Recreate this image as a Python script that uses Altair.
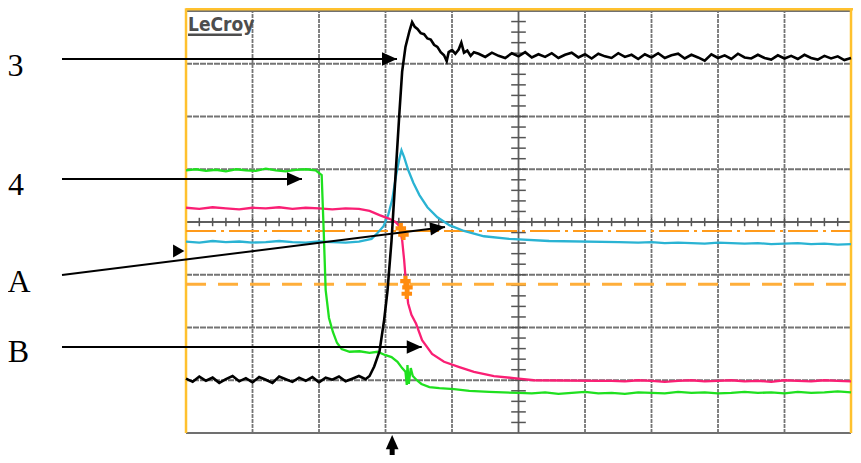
import altair as alt
import pandas as pd

# ---------------- data (screen divisions: t = horizontal div, v = vertical div) ----------------
# Channel 3 (black)
BLACK_BASE_V = [-2.97, -3.03, -2.93, -3.01, -2.95, -3.05, -2.98, -2.92, -3.02, -2.96,
                -3.04, -2.94, -2.99, -3.05, -2.93, -2.98, -3.03, -2.95, -3.01, -2.94,
                -3.04, -2.95, -2.99, -2.93, -3.02, -2.97, -2.92, -2.98]
BLACK_EDGE_T = [-2.24, -2.17, -2.09, -2.02, -1.97, -1.91, -1.85, -1.79, -1.75, -1.70,
                -1.64, -1.60, -1.56, -1.52, -1.47, -1.42, -1.37, -1.32, -1.27, -1.22,
                -1.17, -1.12, -1.08, -1.05, -1.00, -0.95, -0.90, -0.86, -0.82, -0.77,
                -0.72, -0.67]
BLACK_EDGE_V = [-2.92, -2.74, -2.45, -1.85, -1.30, -0.36, 0.87, 2.09, 2.85, 3.32,
                3.62, 3.79, 3.70, 3.66, 3.58, 3.56, 3.48, 3.46, 3.36, 3.32,
                3.22, 3.16, 3.05, 3.22, 3.26, 3.19, 3.27, 3.40, 3.21, 3.25,
                3.15, 3.22]
BLACK_TOP_V = [3.19, 3.13, 3.21, 3.15, 3.11, 3.20, 3.14, 3.22, 3.12, 3.18,
               3.13, 3.20, 3.11, 3.17, 3.21, 3.12, 3.18, 3.10, 3.19, 3.14,
               3.11, 3.20, 3.13, 3.17, 3.09, 3.18, 3.12, 3.20, 3.11, 3.16,
               3.19, 3.10, 3.17, 3.12, 3.06, 3.18, 3.11, 3.16, 3.09, 3.19,
               3.12, 3.10, 3.17, 3.11, 3.08, 3.16, 3.10, 3.15, 3.09, 3.17,
               3.11, 3.08, 3.15, 3.10, 3.14, 3.07, 3.11]

# Channel 4 (green)
GREEN_HIGH_V = [0.98, 1.00, 0.97, 0.99, 0.96, 1.00, 0.98, 0.97, 1.01, 0.98, 0.96, 0.99, 1.00, 0.98]
GREEN_EDGE_T = [-2.96, -2.93, -2.90, -2.85, -2.79, -2.73, -2.66, -2.54, -2.39, -2.24,
                -2.12, -2.01, -1.91, -1.82, -1.75, -1.70, -1.68, -1.67, -1.65, -1.62,
                -1.59, -1.53, -1.46, -1.34, -1.19, -0.97, -0.74, -0.44, 0.0]
GREEN_EDGE_V = [0.89, -0.15, -1.29, -1.82, -2.09, -2.29, -2.41, -2.46, -2.45, -2.48,
                -2.46, -2.52, -2.56, -2.65, -2.77, -2.84, -3.09, -2.71, -3.07, -2.77,
                -2.92, -3.00, -3.07, -3.13, -3.15, -3.17, -3.20, -3.22, -3.24]
GREEN_LOW_V = [-3.25, -3.23, -3.26, -3.24, -3.22, -3.25, -3.24, -3.26, -3.23, -3.24,
               -3.25, -3.22, -3.24, -3.23, -3.25, -3.24, -3.22, -3.24, -3.23, -3.25,
               -3.22, -3.24, -3.23, -3.21, -3.23]

# Trace B (magenta)
MAG_HIGH_V = [0.27, 0.25, 0.28, 0.26, 0.24, 0.27, 0.26, 0.28, 0.25, 0.27, 0.26, 0.24, 0.26, 0.25]
MAG_EDGE_T = [-2.24, -2.09, -1.94, -1.85, -1.79, -1.75, -1.72, -1.69, -1.66, -1.61,
              -1.54, -1.45, -1.30, -1.12, -0.89, -0.67, -0.37, -0.07, 0.23, 1.2]
MAG_EDGE_V = [0.21, 0.13, 0.06, 0.00, -0.08, -0.34, -0.72, -1.19, -1.54, -1.76,
              -1.93, -2.24, -2.50, -2.65, -2.75, -2.84, -2.92, -2.96, -3.00, -3.01]
MAG_LOW_V = [-3.01, -3.02, -3.00, -3.01, -3.03, -3.01, -3.00, -3.02, -3.01, -3.00,
             -3.02, -3.01, -3.03, -3.00, -3.01, -3.02, -3.00, -3.01, -3.02]

# Trace A (cyan)
CYAN_LOW_V = [-0.37, -0.39, -0.36, -0.38, -0.37, -0.39, -0.38, -0.36, -0.38, -0.39, -0.37, -0.38, -0.39, -0.37]
CYAN_EDGE_T = [-2.21, -2.12, -2.03, -1.96, -1.90, -1.84, -1.79, -1.76, -1.72, -1.66,
               -1.58, -1.49, -1.37, -1.22, -1.04, -0.82, -0.52, -0.14, 0.46, 1.51]
CYAN_EDGE_V = [-0.32, -0.21, -0.08, 0.13, 0.42, 0.89, 1.21, 1.36, 1.23, 0.99,
               0.74, 0.51, 0.28, 0.09, -0.06, -0.17, -0.27, -0.32, -0.36, -0.38]
CYAN_TAIL_V = [-0.39, -0.38, -0.40, -0.39, -0.40, -0.41, -0.39, -0.40, -0.41, -0.40,
               -0.42, -0.41, -0.40, -0.42, -0.41, -0.43, -0.42]

# cursors and markers
CURSOR_DASHDOT_V = -0.17
CURSOR_DASHED_V = -1.18
MARK_T = [-1.77, -1.73, -1.70, -1.67, -1.68]
MARK_V = [-0.12, -0.24, -1.12, -1.24, -1.36]

# annotations
LABELS = ["3", "4", "A", "B"]
LABEL_T = [-7.564, -7.556, -7.511, -7.519]
LABEL_V = [2.77, 0.51, -1.33, -2.65]
ARROW_T1 = [-6.865, -6.865, -6.865, -6.865]
ARROW_V1 = [3.09, 0.815, -1.005, -2.37]
ARROW_T2 = [-1.827, -3.256, -1.105, -1.455]
ARROW_V2 = [3.09, 0.815, -0.095, -2.37]
ARROW_ANGLE = [0, 0, 353, 0]

# ---------------- scales ----------------
XMIN, XMAX = -7.677, 5.03
YMIN, YMAX = -4.417, 4.057
xs = alt.Scale(domain=[XMIN, XMAX], nice=False, zero=False)
ys = alt.Scale(domain=[YMIN, YMAX], nice=False, zero=False)


def X(f):
    return alt.X(f, type="quantitative", scale=xs, axis=None)


def Y(f):
    return alt.Y(f, type="quantitative", scale=ys, axis=None)


def trace_df(parts):
    t, v = [], []
    for tt, vv in parts:
        t += list(tt)
        v += list(vv)
    return pd.DataFrame({"t": t, "v": v, "i": range(len(t))})


black = trace_df([
    ([-5.0 + 0.1 * k for k in range(len(BLACK_BASE_V))], BLACK_BASE_V),
    (BLACK_EDGE_T, BLACK_EDGE_V),
    ([-0.6 + 0.1 * k for k in range(len(BLACK_TOP_V))], BLACK_TOP_V),
])
green = trace_df([
    ([-5.0 + 0.15 * k for k in range(len(GREEN_HIGH_V))], GREEN_HIGH_V),
    (GREEN_EDGE_T, GREEN_EDGE_V),
    ([0.2 + 0.2 * k for k in range(len(GREEN_LOW_V))], GREEN_LOW_V),
])
magenta = trace_df([
    ([-5.0 + 0.2 * k for k in range(len(MAG_HIGH_V))], MAG_HIGH_V),
    (MAG_EDGE_T, MAG_EDGE_V),
    ([1.4 + 0.2 * k for k in range(len(MAG_LOW_V))], MAG_LOW_V),
])
cyan = trace_df([
    ([-5.0 + 0.2 * k for k in range(len(CYAN_LOW_V))], CYAN_LOW_V),
    (CYAN_EDGE_T, CYAN_EDGE_V),
    ([1.8 + 0.2 * k for k in range(len(CYAN_TAIL_V))], CYAN_TAIL_V),
])


def line(df, color, w=2.3):
    return alt.Chart(df).mark_line(color=color, strokeWidth=w, interpolate="linear").encode(
        x=X("t"), y=Y("v"), order="i:Q")


# ---------------- graticule ----------------
GRID = "#747474"
vgrid = pd.DataFrame({"t": [-4, -3, -2, -1, 1, 2, 3, 4], "a": -4, "b": 4})
hgrid = pd.DataFrame({"v": [-3, -2, -1, 1, 2, 3], "a": -5, "b": 5})
grid_v = alt.Chart(vgrid).mark_rule(color=GRID, strokeWidth=1.8, strokeDash=[4, 1]).encode(
    x=X("t"), y=Y("a"), y2="b")
grid_h = alt.Chart(hgrid).mark_rule(color=GRID, strokeWidth=1.8, strokeDash=[6, 1]).encode(
    y=Y("v"), x=X("a"), x2="b")

center = pd.DataFrame({"x1": [-5, 0], "x2": [5, 0], "y1": [0, -4], "y2": [0, 4]})
center_rules = alt.Chart(center).mark_rule(color="#5e5e5e", strokeWidth=1.8).encode(
    x=X("x1"), x2="x2", y=Y("y1"), y2="y2")

tt = [round(-5 + 0.2 * k, 2) for k in range(1, 50)]
tick_t = pd.DataFrame({"t": tt, "a": -0.08, "b": 0.08})
tick_x = alt.Chart(tick_t).mark_rule(color="#555555", strokeWidth=1.5).encode(
    x=X("t"), y=Y("a"), y2="b")
tv = [round(-4 + 0.2 * k, 2) for k in range(1, 40)]
tick_v = pd.DataFrame({"v": tv, "a": -0.11, "b": 0.11})
tick_y = alt.Chart(tick_v).mark_rule(color="#555555", strokeWidth=1.5).encode(
    y=Y("v"), x=X("a"), x2="b")

frame_gray = pd.DataFrame({"x1": [-5, -5], "x2": [5, 5], "y1": [4, -4], "y2": [4, -4]})
frame_g = alt.Chart(frame_gray).mark_rule(color="#707070", strokeWidth=1.8).encode(
    x=X("x1"), x2="x2", y=Y("y1"), y2="y2")
frame_orange = pd.DataFrame({"x1": [-5, 5, -5], "x2": [-5, 5, 5.03],
                             "y1": [-4, -4, 4.035], "y2": [4.05, 4.05, 4.035]})
frame_o = alt.Chart(frame_orange).mark_rule(color="#ffc12e", strokeWidth=2.5).encode(
    x=X("x1"), x2="x2", y=Y("y1"), y2="y2")

cur1 = alt.Chart(pd.DataFrame({"a": [-5], "b": [5], "v": [CURSOR_DASHDOT_V]})).mark_rule(
    color="#ff9a1a", strokeWidth=2, strokeDash=[30, 5, 3, 5]).encode(x=X("a"), x2="b", y=Y("v"))
cur2 = alt.Chart(pd.DataFrame({"a": [-5], "b": [5], "v": [CURSOR_DASHED_V]})).mark_rule(
    color="#ffae3a", strokeWidth=3, strokeDash=[20, 12]).encode(x=X("a"), x2="b", y=Y("v"))

markers = alt.Chart(pd.DataFrame({"t": MARK_T, "v": MARK_V})).mark_point(
    shape="cross", filled=True, size=110, color="#ff8c0f", opacity=1).encode(x=X("t"), y=Y("v"))

# ---------------- annotations ----------------
HEAD = "M 0 0 L -2 -0.9 L -2 0.9 Z"
arrows = pd.DataFrame({"x1": ARROW_T1, "y1": ARROW_V1, "x2": ARROW_T2, "y2": ARROW_V2,
                       "ang": ARROW_ANGLE})
arrow_lines = alt.Chart(arrows).mark_rule(color="black", strokeWidth=2).encode(
    x=X("x1"), y=Y("y1"), x2="x2", y2="y2")
arrow_heads = alt.Chart(arrows).mark_point(shape=HEAD, filled=True, size=225, color="black",
                                           opacity=1, strokeWidth=0).encode(
    x=X("x2"), y=Y("y2"), angle=alt.Angle("ang:Q", scale=None))

labels = alt.Chart(pd.DataFrame({"txt": LABELS, "t": LABEL_T, "v": LABEL_V})).mark_text(
    font="Liberation Serif", fontSize=32, align="center", baseline="alphabetic", color="black").encode(
    x=X("t"), y=Y("v"), text="txt:N")

trig = pd.DataFrame({"t": [-1.90], "v": [-4.04], "a": [-4.2], "b": [-4.417], "ang": [270]})
trig_shaft = alt.Chart(trig).mark_rule(color="black", strokeWidth=5).encode(
    x=X("t"), y=Y("a"), y2="b")
trig_head = alt.Chart(trig).mark_point(shape=HEAD, filled=True, size=200, color="black",
                                       opacity=1, strokeWidth=0).encode(
    x=X("t"), y=Y("v"), angle=alt.Angle("ang:Q", scale=None))

level = alt.Chart(pd.DataFrame({"t": [-5.11], "v": [-0.55]})).mark_point(
    shape="triangle-right", filled=True, size=170, color="black", opacity=1).encode(
    x=X("t"), y=Y("v"))

logo = alt.Chart(pd.DataFrame({"t": [-4.97], "v": [3.62], "txt": ["LeCroy"]})).mark_text(
    font="DejaVu Sans Condensed", fontWeight="bold", fontSize=19, align="left",
    baseline="alphabetic", color="#4d4d4d").encode(x=X("t"), y=Y("v"), text="txt:N")
logo_ul = alt.Chart(pd.DataFrame({"a": [-4.97], "b": [-4.16], "v": [3.55]})).mark_rule(
    color="#4d4d4d", strokeWidth=2.5).encode(x=X("a"), x2="b", y=Y("v"))

chart = alt.layer(
    grid_v, grid_h, frame_g, center_rules, tick_x, tick_y, frame_o,
    cur1, cur2,
    line(cyan, "#2ab3d3"), line(magenta, "#fa1f74"), line(green, "#1fe01f"),
    line(black, "#000000", 2.6),
    markers,
    arrow_lines, arrow_heads, labels, trig_shaft, trig_head, level, logo, logo_ul,
).properties(
    width=845, height=447, padding=0, autosize=alt.AutoSizeParams(type="none"),
    background="white",
).configure_view(stroke=None)

chart.save("out.html", embed_options={"renderer": "svg", "actions": False})
